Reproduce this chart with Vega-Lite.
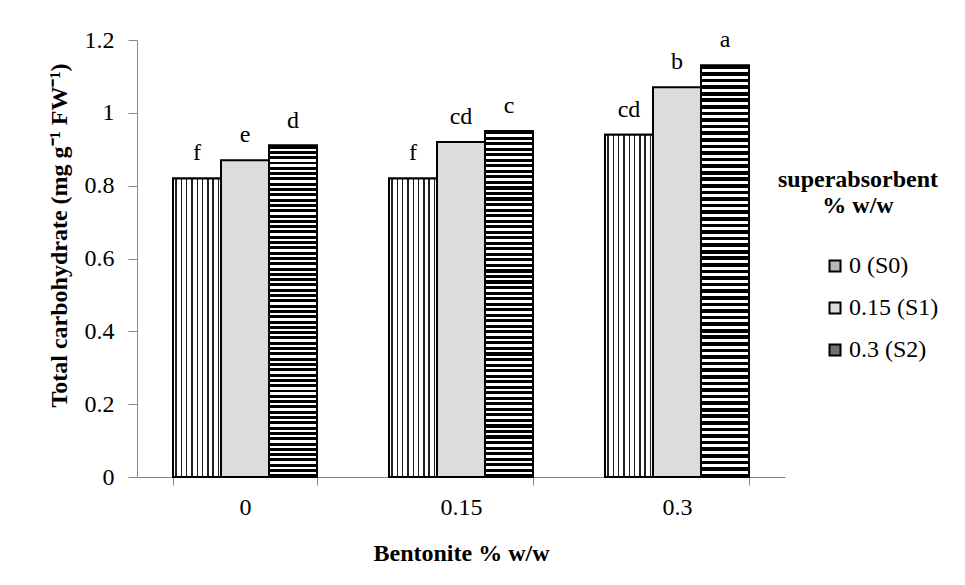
{
  "$schema": "https://vega.github.io/schema/vega-lite/v6.json",
  "width": 648,
  "height": 437,
  "autosize": {"type": "none"},
  "padding": {"left": 137, "top": 40, "right": 180, "bottom": 108},
  "background": "white",
  "config": {"view": {"stroke": null}, "font": "Liberation Serif", "axis": {"labelFont": "Liberation Serif", "titleFont": "Liberation Serif"}, "legend": {"labelFont": "Liberation Serif", "titleFont": "Liberation Serif"}},
  "data": {
    "values": [
      {"bentonite": "0", "series": "0 (S0)", "value": 0.82, "letter": "f"},
      {"bentonite": "0", "series": "0.15 (S1)", "value": 0.87, "letter": "e"},
      {"bentonite": "0", "series": "0.3 (S2)", "value": 0.91, "letter": "d"},
      {"bentonite": "0.15", "series": "0 (S0)", "value": 0.82, "letter": "f"},
      {"bentonite": "0.15", "series": "0.15 (S1)", "value": 0.92, "letter": "cd"},
      {"bentonite": "0.15", "series": "0.3 (S2)", "value": 0.95, "letter": "c"},
      {"bentonite": "0.3", "series": "0 (S0)", "value": 0.94, "letter": "cd"},
      {"bentonite": "0.3", "series": "0.15 (S1)", "value": 1.07, "letter": "b"},
      {"bentonite": "0.3", "series": "0.3 (S2)", "value": 1.13, "letter": "a"}
    ]
  },
  "encoding": {
    "x": {
      "field": "bentonite", "type": "nominal", "sort": ["0", "0.15", "0.3"],
      "scale": {"paddingInner": 0.3333, "paddingOuter": 0.1667},
      "axis": {"title": "Bentonite % w/w", "labelAngle": 0, "tickBand": "extent", "domainColor": "#888", "tickColor": "#888", "tickSize": 8, "labelFontSize": 24, "labelColor": "#000", "labelPadding": 10, "titleFontSize": 24, "titleFontWeight": "bold", "titleColor": "#000", "titlePadding": 22}
    },
    "xOffset": {"field": "series", "type": "nominal", "sort": ["0 (S0)", "0.15 (S1)", "0.3 (S2)"], "scale": {"paddingInner": 0, "paddingOuter": 0}},
    "y": {
      "field": "value", "type": "quantitative", "scale": {"domain": [0, 1.2]},
      "axis": {"values": [0, 0.2, 0.4, 0.6, 0.8, 1, 1.2], "format": "~g", "grid": false, "title": "Total carbohydrate (mg g⁻¹ FW⁻¹)", "titleY": 195, "domainColor": "#888", "tickColor": "#888", "tickSize": 9, "labelFontSize": 24, "labelColor": "#000", "labelPadding": 14, "titleFontSize": 24, "titleFontWeight": "bold", "titleColor": "#000", "titlePadding": 13}
    }
  },
  "layer": [
    {
      "mark": {"type": "bar", "stroke": "#000", "strokeWidth": 2},
      "encoding": {
        "fill": {
          "field": "series", "type": "nominal", "sort": ["0 (S0)", "0.15 (S1)", "0.3 (S2)"],
          "scale": {"range": ["#b8b8b8", "#dcdcdc", "#707070"]},
          "legend": {
            "title": ["superabsorbent", "% w/w"], "orient": "none", "legendX": 640, "legendY": 128,
            "titleFontSize": 24, "titleFontWeight": "bold", "titleColor": "#000", "titleAlign": "center", "titleAnchor": "middle", "titleLineHeight": 26, "titlePadding": 36,
            "labelFontSize": 24, "labelColor": "#000", "labelOffset": 2,
            "symbolType": "square", "symbolSize": 121, "symbolStrokeColor": "#000", "symbolStrokeWidth": 2, "symbolOffset": 46,
            "rowPadding": 18
          }
        }
      }
    },
    {
      "transform": [{"filter": "datum.series === '0 (S0)'"}],
      "mark": {"type": "bar", "stroke": "#000", "strokeWidth": 2, "fill": {"gradient": "linear", "x1": 0, "y1": 0, "x2": 1, "y2": 0, "stops": [
              {"offset": 0, "color": "#fff"}, {"offset": 0.05, "color": "#fff"}, {"offset": 0.05, "color": "#222"}, {"offset": 0.08, "color": "#222"},
              {"offset": 0.08, "color": "#fff"}, {"offset": 0.16, "color": "#fff"}, {"offset": 0.16, "color": "#222"}, {"offset": 0.19, "color": "#222"},
              {"offset": 0.19, "color": "#fff"}, {"offset": 0.27, "color": "#fff"}, {"offset": 0.27, "color": "#222"}, {"offset": 0.3, "color": "#222"},
              {"offset": 0.3, "color": "#fff"}, {"offset": 0.38, "color": "#fff"}, {"offset": 0.38, "color": "#222"}, {"offset": 0.41, "color": "#222"},
              {"offset": 0.41, "color": "#fff"}, {"offset": 0.49, "color": "#fff"}, {"offset": 0.49, "color": "#222"}, {"offset": 0.52, "color": "#222"},
              {"offset": 0.52, "color": "#fff"}, {"offset": 0.6, "color": "#fff"}, {"offset": 0.6, "color": "#222"}, {"offset": 0.63, "color": "#222"},
              {"offset": 0.63, "color": "#fff"}, {"offset": 0.71, "color": "#fff"}, {"offset": 0.71, "color": "#222"}, {"offset": 0.74, "color": "#222"},
              {"offset": 0.74, "color": "#fff"}, {"offset": 0.82, "color": "#fff"}, {"offset": 0.82, "color": "#222"}, {"offset": 0.85, "color": "#222"},
              {"offset": 0.85, "color": "#fff"}, {"offset": 0.93, "color": "#fff"}, {"offset": 0.93, "color": "#222"}, {"offset": 0.96, "color": "#222"},
              {"offset": 0.96, "color": "#fff"}, {"offset": 1, "color": "#fff"}
            ]}},
      "encoding": {}
    },
    {
      "transform": [{"filter": "datum.series === '0.3 (S2)'"}],
      "mark": {"type": "bar", "stroke": "#000", "strokeWidth": 2, "fill": {"gradient": "linear", "x1": 0, "y1": 0, "x2": 0, "y2": 1, "stops": [
              {"offset": 0, "color": "#000"}, {"offset": 0.009, "color": "#000"}, {"offset": 0.009, "color": "#fff"}, {"offset": 0.016, "color": "#fff"},
              {"offset": 0.016, "color": "#000"}, {"offset": 0.025, "color": "#000"}, {"offset": 0.025, "color": "#fff"}, {"offset": 0.032, "color": "#fff"},
              {"offset": 0.032, "color": "#000"}, {"offset": 0.041, "color": "#000"}, {"offset": 0.041, "color": "#fff"}, {"offset": 0.048, "color": "#fff"},
              {"offset": 0.048, "color": "#000"}, {"offset": 0.057, "color": "#000"}, {"offset": 0.057, "color": "#fff"}, {"offset": 0.064, "color": "#fff"},
              {"offset": 0.064, "color": "#000"}, {"offset": 0.073, "color": "#000"}, {"offset": 0.073, "color": "#fff"}, {"offset": 0.08, "color": "#fff"},
              {"offset": 0.08, "color": "#000"}, {"offset": 0.089, "color": "#000"}, {"offset": 0.089, "color": "#fff"}, {"offset": 0.096, "color": "#fff"},
              {"offset": 0.096, "color": "#000"}, {"offset": 0.105, "color": "#000"}, {"offset": 0.105, "color": "#fff"}, {"offset": 0.112, "color": "#fff"},
              {"offset": 0.112, "color": "#000"}, {"offset": 0.121, "color": "#000"}, {"offset": 0.121, "color": "#fff"}, {"offset": 0.128, "color": "#fff"},
              {"offset": 0.128, "color": "#000"}, {"offset": 0.137, "color": "#000"}, {"offset": 0.137, "color": "#fff"}, {"offset": 0.144, "color": "#fff"},
              {"offset": 0.144, "color": "#000"}, {"offset": 0.153, "color": "#000"}, {"offset": 0.153, "color": "#fff"}, {"offset": 0.16, "color": "#fff"},
              {"offset": 0.16, "color": "#000"}, {"offset": 0.169, "color": "#000"}, {"offset": 0.169, "color": "#fff"}, {"offset": 0.176, "color": "#fff"},
              {"offset": 0.176, "color": "#000"}, {"offset": 0.185, "color": "#000"}, {"offset": 0.185, "color": "#fff"}, {"offset": 0.192, "color": "#fff"},
              {"offset": 0.192, "color": "#000"}, {"offset": 0.201, "color": "#000"}, {"offset": 0.201, "color": "#fff"}, {"offset": 0.208, "color": "#fff"},
              {"offset": 0.208, "color": "#000"}, {"offset": 0.217, "color": "#000"}, {"offset": 0.217, "color": "#fff"}, {"offset": 0.224, "color": "#fff"},
              {"offset": 0.224, "color": "#000"}, {"offset": 0.233, "color": "#000"}, {"offset": 0.233, "color": "#fff"}, {"offset": 0.24, "color": "#fff"},
              {"offset": 0.24, "color": "#000"}, {"offset": 0.249, "color": "#000"}, {"offset": 0.249, "color": "#fff"}, {"offset": 0.256, "color": "#fff"},
              {"offset": 0.256, "color": "#000"}, {"offset": 0.265, "color": "#000"}, {"offset": 0.265, "color": "#fff"}, {"offset": 0.272, "color": "#fff"},
              {"offset": 0.272, "color": "#000"}, {"offset": 0.281, "color": "#000"}, {"offset": 0.281, "color": "#fff"}, {"offset": 0.288, "color": "#fff"},
              {"offset": 0.288, "color": "#000"}, {"offset": 0.297, "color": "#000"}, {"offset": 0.297, "color": "#fff"}, {"offset": 0.304, "color": "#fff"},
              {"offset": 0.304, "color": "#000"}, {"offset": 0.313, "color": "#000"}, {"offset": 0.313, "color": "#fff"}, {"offset": 0.32, "color": "#fff"},
              {"offset": 0.32, "color": "#000"}, {"offset": 0.329, "color": "#000"}, {"offset": 0.329, "color": "#fff"}, {"offset": 0.336, "color": "#fff"},
              {"offset": 0.336, "color": "#000"}, {"offset": 0.345, "color": "#000"}, {"offset": 0.345, "color": "#fff"}, {"offset": 0.352, "color": "#fff"},
              {"offset": 0.352, "color": "#000"}, {"offset": 0.361, "color": "#000"}, {"offset": 0.361, "color": "#fff"}, {"offset": 0.368, "color": "#fff"},
              {"offset": 0.368, "color": "#000"}, {"offset": 0.377, "color": "#000"}, {"offset": 0.377, "color": "#fff"}, {"offset": 0.384, "color": "#fff"},
              {"offset": 0.384, "color": "#000"}, {"offset": 0.393, "color": "#000"}, {"offset": 0.393, "color": "#fff"}, {"offset": 0.4, "color": "#fff"},
              {"offset": 0.4, "color": "#000"}, {"offset": 0.409, "color": "#000"}, {"offset": 0.409, "color": "#fff"}, {"offset": 0.416, "color": "#fff"},
              {"offset": 0.416, "color": "#000"}, {"offset": 0.425, "color": "#000"}, {"offset": 0.425, "color": "#fff"}, {"offset": 0.432, "color": "#fff"},
              {"offset": 0.432, "color": "#000"}, {"offset": 0.441, "color": "#000"}, {"offset": 0.441, "color": "#fff"}, {"offset": 0.448, "color": "#fff"},
              {"offset": 0.448, "color": "#000"}, {"offset": 0.457, "color": "#000"}, {"offset": 0.457, "color": "#fff"}, {"offset": 0.464, "color": "#fff"},
              {"offset": 0.464, "color": "#000"}, {"offset": 0.473, "color": "#000"}, {"offset": 0.473, "color": "#fff"}, {"offset": 0.48, "color": "#fff"},
              {"offset": 0.48, "color": "#000"}, {"offset": 0.489, "color": "#000"}, {"offset": 0.489, "color": "#fff"}, {"offset": 0.496, "color": "#fff"},
              {"offset": 0.496, "color": "#000"}, {"offset": 0.505, "color": "#000"}, {"offset": 0.505, "color": "#fff"}, {"offset": 0.512, "color": "#fff"},
              {"offset": 0.512, "color": "#000"}, {"offset": 0.521, "color": "#000"}, {"offset": 0.521, "color": "#fff"}, {"offset": 0.528, "color": "#fff"},
              {"offset": 0.528, "color": "#000"}, {"offset": 0.537, "color": "#000"}, {"offset": 0.537, "color": "#fff"}, {"offset": 0.544, "color": "#fff"},
              {"offset": 0.544, "color": "#000"}, {"offset": 0.553, "color": "#000"}, {"offset": 0.553, "color": "#fff"}, {"offset": 0.56, "color": "#fff"},
              {"offset": 0.56, "color": "#000"}, {"offset": 0.569, "color": "#000"}, {"offset": 0.569, "color": "#fff"}, {"offset": 0.576, "color": "#fff"},
              {"offset": 0.576, "color": "#000"}, {"offset": 0.585, "color": "#000"}, {"offset": 0.585, "color": "#fff"}, {"offset": 0.592, "color": "#fff"},
              {"offset": 0.592, "color": "#000"}, {"offset": 0.601, "color": "#000"}, {"offset": 0.601, "color": "#fff"}, {"offset": 0.608, "color": "#fff"},
              {"offset": 0.608, "color": "#000"}, {"offset": 0.617, "color": "#000"}, {"offset": 0.617, "color": "#fff"}, {"offset": 0.624, "color": "#fff"},
              {"offset": 0.624, "color": "#000"}, {"offset": 0.633, "color": "#000"}, {"offset": 0.633, "color": "#fff"}, {"offset": 0.64, "color": "#fff"},
              {"offset": 0.64, "color": "#000"}, {"offset": 0.649, "color": "#000"}, {"offset": 0.649, "color": "#fff"}, {"offset": 0.656, "color": "#fff"},
              {"offset": 0.656, "color": "#000"}, {"offset": 0.665, "color": "#000"}, {"offset": 0.665, "color": "#fff"}, {"offset": 0.672, "color": "#fff"},
              {"offset": 0.672, "color": "#000"}, {"offset": 0.681, "color": "#000"}, {"offset": 0.681, "color": "#fff"}, {"offset": 0.688, "color": "#fff"},
              {"offset": 0.688, "color": "#000"}, {"offset": 0.697, "color": "#000"}, {"offset": 0.697, "color": "#fff"}, {"offset": 0.704, "color": "#fff"},
              {"offset": 0.704, "color": "#000"}, {"offset": 0.713, "color": "#000"}, {"offset": 0.713, "color": "#fff"}, {"offset": 0.72, "color": "#fff"},
              {"offset": 0.72, "color": "#000"}, {"offset": 0.729, "color": "#000"}, {"offset": 0.729, "color": "#fff"}, {"offset": 0.736, "color": "#fff"},
              {"offset": 0.736, "color": "#000"}, {"offset": 0.745, "color": "#000"}, {"offset": 0.745, "color": "#fff"}, {"offset": 0.752, "color": "#fff"},
              {"offset": 0.752, "color": "#000"}, {"offset": 0.761, "color": "#000"}, {"offset": 0.761, "color": "#fff"}, {"offset": 0.768, "color": "#fff"},
              {"offset": 0.768, "color": "#000"}, {"offset": 0.777, "color": "#000"}, {"offset": 0.777, "color": "#fff"}, {"offset": 0.784, "color": "#fff"},
              {"offset": 0.784, "color": "#000"}, {"offset": 0.793, "color": "#000"}, {"offset": 0.793, "color": "#fff"}, {"offset": 0.8, "color": "#fff"},
              {"offset": 0.8, "color": "#000"}, {"offset": 0.809, "color": "#000"}, {"offset": 0.809, "color": "#fff"}, {"offset": 0.816, "color": "#fff"},
              {"offset": 0.816, "color": "#000"}, {"offset": 0.825, "color": "#000"}, {"offset": 0.825, "color": "#fff"}, {"offset": 0.832, "color": "#fff"},
              {"offset": 0.832, "color": "#000"}, {"offset": 0.841, "color": "#000"}, {"offset": 0.841, "color": "#fff"}, {"offset": 0.848, "color": "#fff"},
              {"offset": 0.848, "color": "#000"}, {"offset": 0.857, "color": "#000"}, {"offset": 0.857, "color": "#fff"}, {"offset": 0.864, "color": "#fff"},
              {"offset": 0.864, "color": "#000"}, {"offset": 0.873, "color": "#000"}, {"offset": 0.873, "color": "#fff"}, {"offset": 0.88, "color": "#fff"},
              {"offset": 0.88, "color": "#000"}, {"offset": 0.889, "color": "#000"}, {"offset": 0.889, "color": "#fff"}, {"offset": 0.896, "color": "#fff"},
              {"offset": 0.896, "color": "#000"}, {"offset": 0.905, "color": "#000"}, {"offset": 0.905, "color": "#fff"}, {"offset": 0.912, "color": "#fff"},
              {"offset": 0.912, "color": "#000"}, {"offset": 0.921, "color": "#000"}, {"offset": 0.921, "color": "#fff"}, {"offset": 0.928, "color": "#fff"},
              {"offset": 0.928, "color": "#000"}, {"offset": 0.937, "color": "#000"}, {"offset": 0.937, "color": "#fff"}, {"offset": 0.944, "color": "#fff"},
              {"offset": 0.944, "color": "#000"}, {"offset": 0.953, "color": "#000"}, {"offset": 0.953, "color": "#fff"}, {"offset": 0.96, "color": "#fff"},
              {"offset": 0.96, "color": "#000"}, {"offset": 0.969, "color": "#000"}, {"offset": 0.969, "color": "#fff"}, {"offset": 0.976, "color": "#fff"},
              {"offset": 0.976, "color": "#000"}, {"offset": 0.985, "color": "#000"}, {"offset": 0.985, "color": "#fff"}, {"offset": 0.992, "color": "#fff"},
              {"offset": 0.992, "color": "#000"}, {"offset": 1, "color": "#000"}
            ]}},
      "encoding": {}
    },
    {
      "mark": {"type": "text", "baseline": "alphabetic", "dy": -18, "fontSize": 24, "font": "Liberation Serif", "color": "#000"},
      "encoding": {"text": {"field": "letter"}}
    }
  ]
}
